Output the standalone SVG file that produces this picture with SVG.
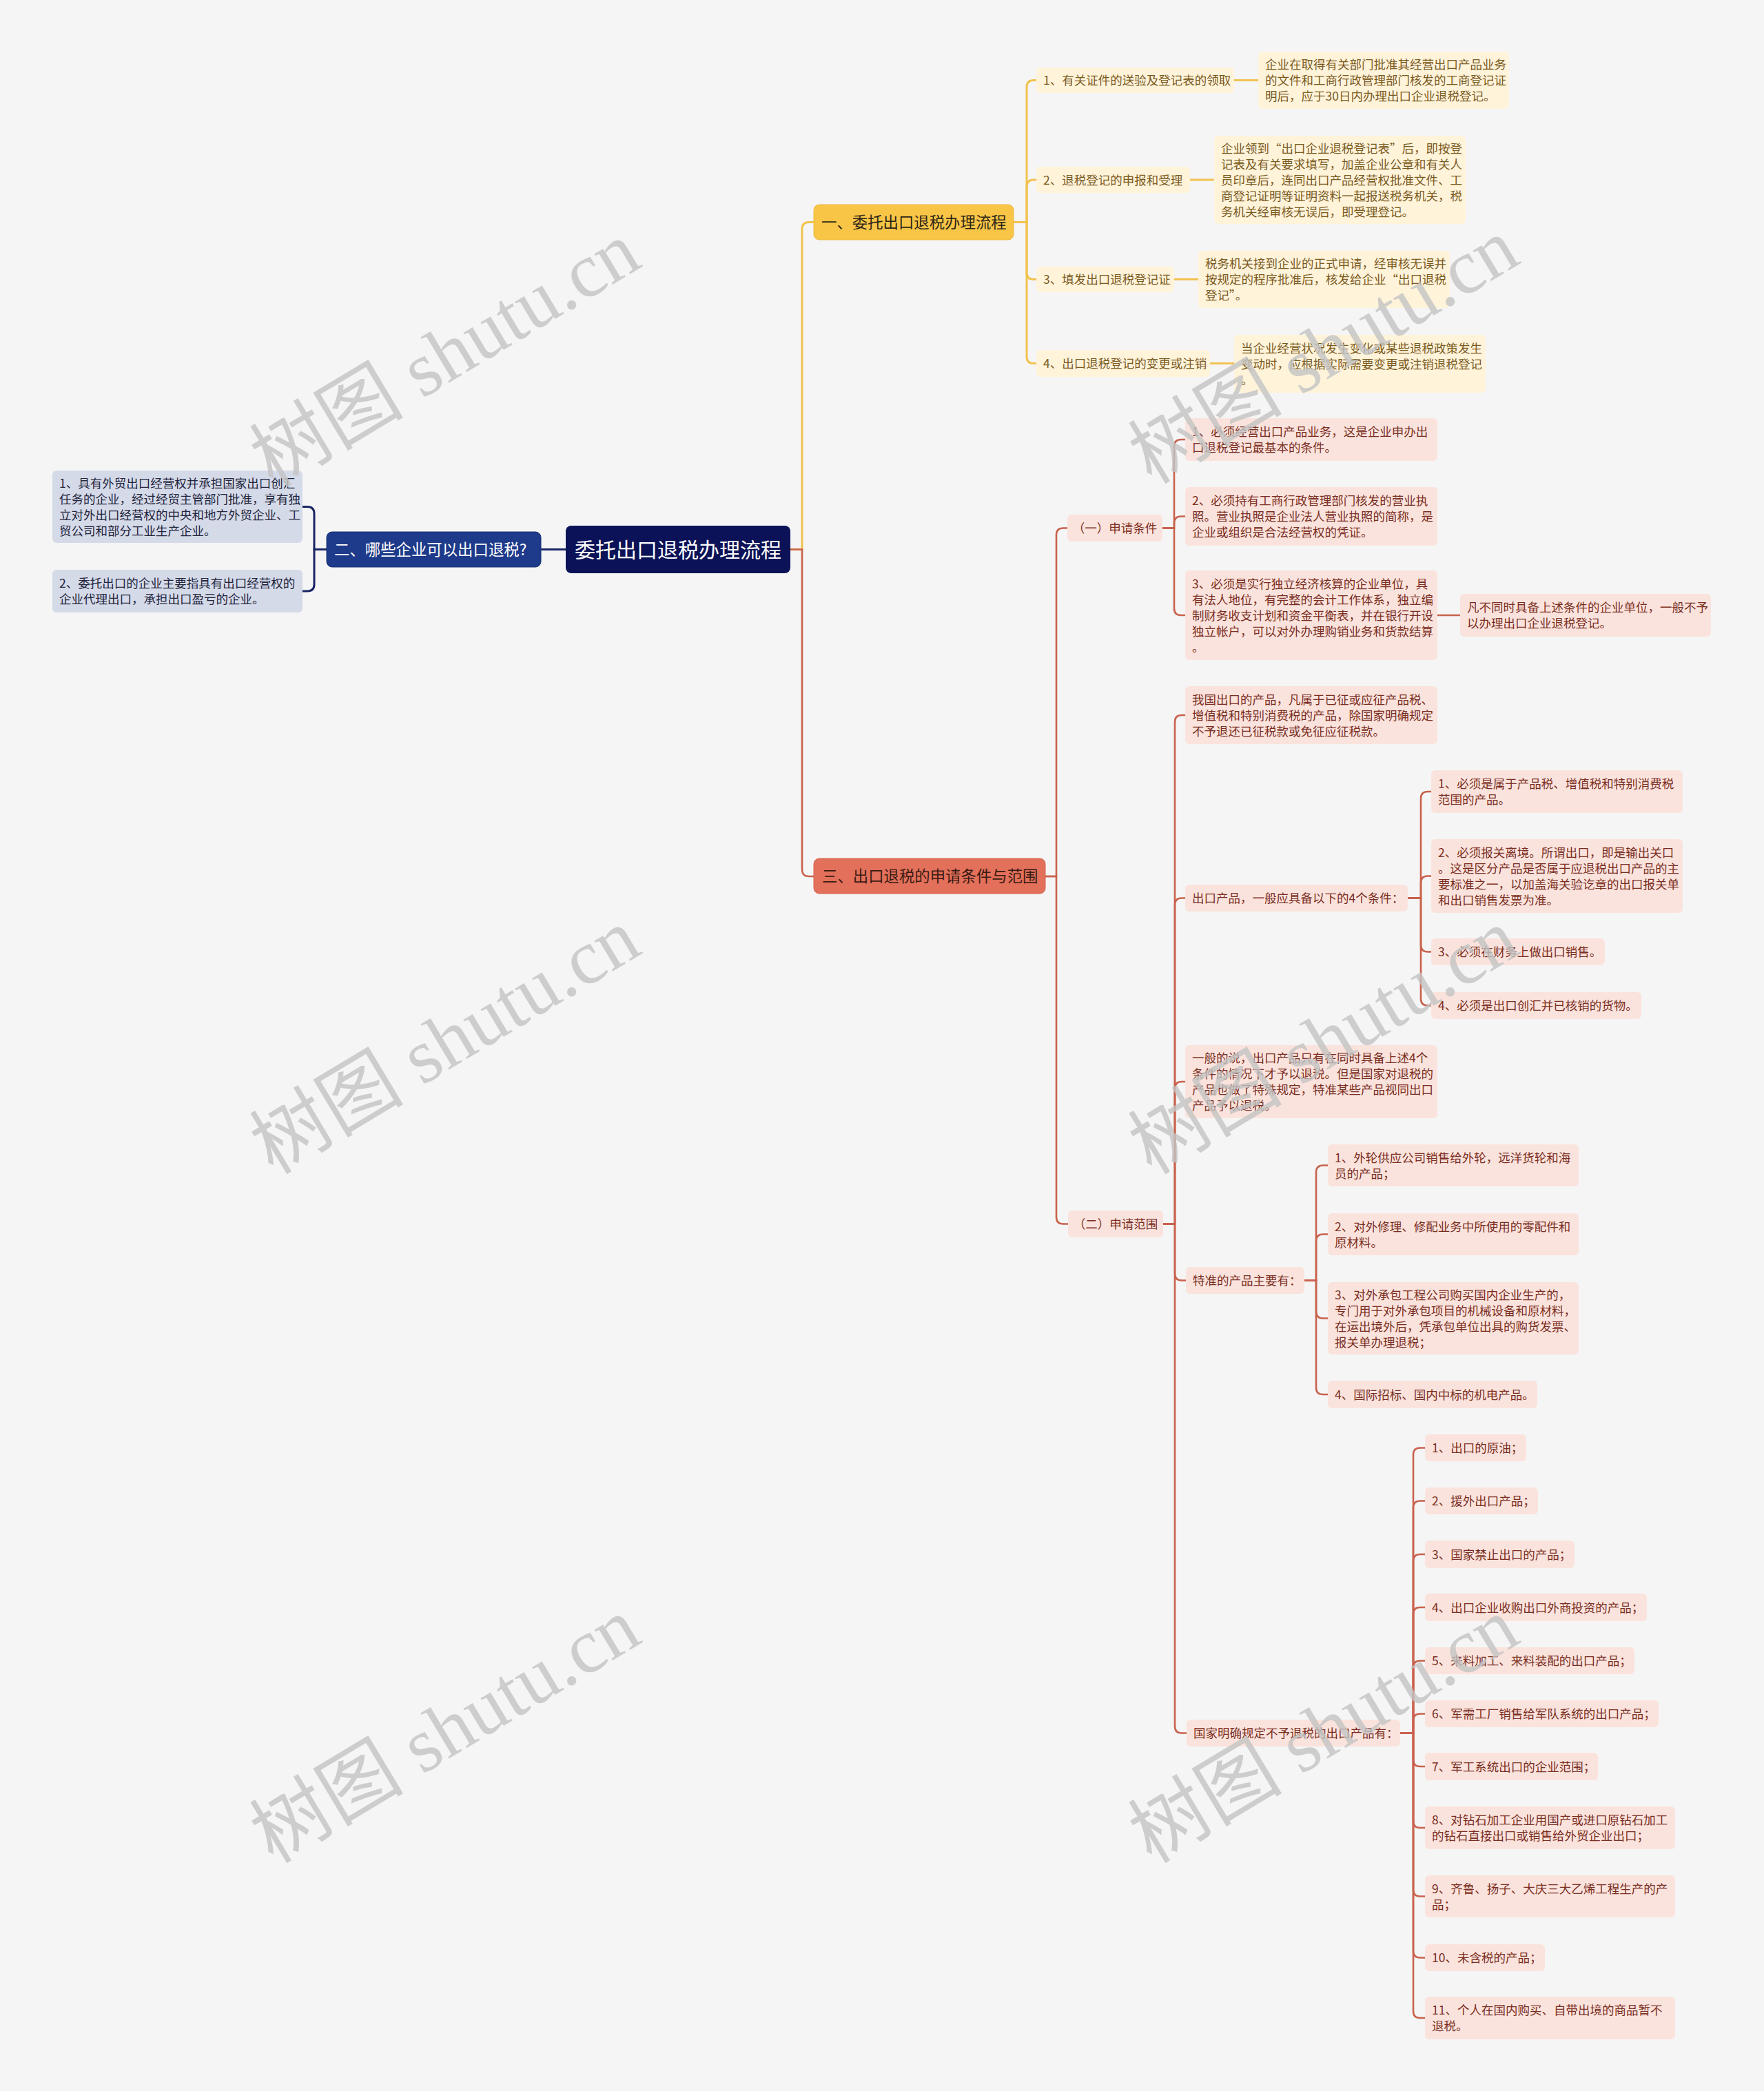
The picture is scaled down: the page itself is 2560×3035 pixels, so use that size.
<svg xmlns="http://www.w3.org/2000/svg" width="2560" height="3035" viewBox="0 0 2560 3035">
<style>
.t{font-family:"Noto Sans CJK SC","Noto Sans",sans-serif;font-size:17.5px}
.ty{fill:#7A5A1E}
.tr{fill:#7A2E22}
.tb{fill:#22253C}
.ny{fill:#FFF3DA}
.nr{fill:#FBE3DD}
.nb{fill:#D5DAE9}
.cy{fill:none;stroke:#F2C24F;stroke-width:3}
.cr{fill:none;stroke:#C9624D;stroke-width:2.6}
.cb{fill:none;stroke:#1A2565;stroke-width:3}
.wm{font-family:"Liberation Serif","Noto Sans CJK SC",serif;font-size:112px;fill:#c4c4c4;opacity:0.8}
</style>
<rect width="2560" height="3035" fill="#F5F5F5"/>

<g id="connectors">
<path class="cy" d="M1147 797.5 H1164 V332.5 Q1164 322.5 1174 322.5 H1181"/>
<path class="cr" d="M1147 797.5 H1164 V1262 Q1164 1272 1174 1272 H1181"/>
<path class="cb" d="M821 797.5 H785"/>
<path class="cb" d="M474 797.5 H456 V745.5 Q456 735.5 446 735.5 H439"/>
<path class="cb" d="M474 797.5 H456 V848 Q456 858 446 858 H439"/>
<path class="cy" d="M1471 322.5 H1490 V126.5 Q1490 116.5 1500 116.5 H1504"/>
<path class="cy" d="M1471 322.5 H1490 V271 Q1490 261 1500 261 H1504"/>
<path class="cy" d="M1471 322.5 H1490 V395.5 Q1490 405.5 1500 405.5 H1504"/>
<path class="cy" d="M1471 322.5 H1490 V517.5 Q1490 527.5 1500 527.5 H1504"/>
<path class="cy" d="M1791 116.5 H1826 M1727 261 H1762 M1704 405.5 H1739 M1756 527.5 H1791"/>
<path class="cr" d="M1517 1272 H1533 V776.5 Q1533 766.5 1543 766.5 H1549"/>
<path class="cr" d="M1517 1272 H1533 V1766.5 Q1533 1776.5 1543 1776.5 H1550"/>
<path class="cr" d="M1687 766.5 H1704 V648 Q1704 638 1714 638 H1720"/>
<path class="cr" d="M1687 766.5 H1704 V759.5 Q1704 749.5 1714 749.5 H1720"/>
<path class="cr" d="M1687 766.5 H1704 V883 Q1704 893 1714 893 H1720"/>
<path class="cr" d="M2086 893 H2119"/>
<path class="cr" d="M1688 1776.5 H1705 V1048 Q1705 1038 1715 1038 H1720"/>
<path class="cr" d="M1688 1776.5 H1705 V1313.5 Q1705 1303.5 1715 1303.5 H1720"/>
<path class="cr" d="M1688 1776.5 H1705 V1580 Q1705 1570 1715 1570 H1720"/>
<path class="cr" d="M1688 1776.5 H1705 V1848.5 Q1705 1858.5 1715 1858.5 H1721"/>
<path class="cr" d="M1688 1776.5 H1705 V2505.5 Q1705 2515.5 1715 2515.5 H1722"/>
<path class="cr" d="M2043 1303.5 H2062 V1159 Q2062 1149 2072 1149 H2077"/>
<path class="cr" d="M2043 1303.5 H2062 V1281.5 Q2062 1271.5 2072 1271.5 H2077"/>
<path class="cr" d="M2043 1303.5 H2062 V1371.5 Q2062 1381.5 2072 1381.5 H2077"/>
<path class="cr" d="M2043 1303.5 H2062 V1449.5 Q2062 1459.5 2072 1459.5 H2077"/>
<path class="cr" d="M1893 1858.5 H1910 V1701.5 Q1910 1691.5 1920 1691.5 H1927"/>
<path class="cr" d="M1893 1858.5 H1910 V1801.5 Q1910 1791.5 1920 1791.5 H1927"/>
<path class="cr" d="M1893 1858.5 H1910 V1903.5 Q1910 1913.5 1920 1913.5 H1927"/>
<path class="cr" d="M1893 1858.5 H1910 V2014 Q1910 2024 1920 2024 H1927"/>
<path class="cr" d="M2032 2515.5 H2051 V2111.5 Q2051 2101.5 2061 2101.5 H2068"/>
<path class="cr" d="M2032 2515.5 H2051 V2188.5 Q2051 2178.5 2061 2178.5 H2068"/>
<path class="cr" d="M2032 2515.5 H2051 V2266 Q2051 2256 2061 2256 H2068"/>
<path class="cr" d="M2032 2515.5 H2051 V2343 Q2051 2333 2061 2333 H2068"/>
<path class="cr" d="M2032 2515.5 H2051 V2420.5 Q2051 2410.5 2061 2410.5 H2068"/>
<path class="cr" d="M2032 2515.5 H2051 V2497.5 Q2051 2487.5 2061 2487.5 H2068"/>
<path class="cr" d="M2032 2515.5 H2051 V2554 Q2051 2564 2061 2564 H2068"/>
<path class="cr" d="M2032 2515.5 H2051 V2643 Q2051 2653 2061 2653 H2068"/>
<path class="cr" d="M2032 2515.5 H2051 V2742.5 Q2051 2752.5 2061 2752.5 H2068"/>
<path class="cr" d="M2032 2515.5 H2051 V2831.5 Q2051 2841.5 2061 2841.5 H2068"/>
<path class="cr" d="M2032 2515.5 H2051 V2919 Q2051 2929 2061 2929 H2068"/>
</g>

<g id="root">
<rect x="821" y="763" width="326" height="69" rx="8" fill="#0B1257"/>
<text x="984" y="808.5" text-anchor="middle" style="font-family:'Noto Sans CJK SC',sans-serif;font-size:30px;fill:#ffffff">委托出口退税办理流程</text>
</g>

<g id="b1">
<rect x="1181" y="297" width="290" height="51" rx="8" fill="#F8C547" stroke="#EDB93C" stroke-width="1"/>
<text x="1192" y="331" style="font-family:'Noto Sans CJK SC',sans-serif;font-size:22.4px;fill:#2E2615">一、委托出口退税办理流程</text>
</g>
<g id="b2">
<rect x="474" y="772" width="311" height="51" rx="8" fill="#1E3A8A" stroke="#172F73" stroke-width="1"/>
<text x="485" y="806" style="font-family:'Noto Sans CJK SC',sans-serif;font-size:22.4px;fill:#ffffff">二、哪些企业可以出口退税?</text>
</g>
<g id="b3">
<rect x="1181" y="1246" width="336" height="51" rx="8" fill="#E2705A" stroke="#D4634D" stroke-width="1"/>
<text x="1193" y="1280" style="font-family:'Noto Sans CJK SC',sans-serif;font-size:22.4px;fill:#3A1A12">三、出口退税的申请条件与范围</text>
</g>

<g id="y1"><rect class="ny" x="1504" y="98" width="287" height="37" rx="6"/><text class="t ty" x="1514" y="123">1、有关证件的送验及登记表的领取</text></g>
<g id="y1a"><rect class="ny" x="1826" y="75" width="364" height="83" rx="6"/><text class="t ty"><tspan x="1836" y="100">企业在取得有关部门批准其经营出口产品业务</tspan><tspan x="1836" y="123">的文件和工商行政管理部门核发的工商登记证</tspan><tspan x="1836" y="146">明后，应于30日内办理出口企业退税登记。</tspan></text></g>
<g id="y2"><rect class="ny" x="1504" y="242" width="223" height="38" rx="6"/><text class="t ty" x="1514" y="267.5">2、退税登记的申报和受理</text></g>
<g id="y2a"><rect class="ny" x="1762" y="197" width="365" height="128" rx="6"/><text class="t ty"><tspan x="1772" y="221.5">企业领到“出口企业退税登记表”后，即按登</tspan><tspan x="1772" y="244.5">记表及有关要求填写，加盖企业公章和有关人</tspan><tspan x="1772" y="267.5">员印章后，连同出口产品经营权批准文件、工</tspan><tspan x="1772" y="290.5">商登记证明等证明资料一起报送税务机关，税</tspan><tspan x="1772" y="313.5">务机关经审核无误后，即受理登记。</tspan></text></g>
<g id="y3"><rect class="ny" x="1504" y="387" width="200" height="37" rx="6"/><text class="t ty" x="1514" y="412">3、填发出口退税登记证</text></g>
<g id="y3a"><rect class="ny" x="1739" y="364" width="365" height="83" rx="6"/><text class="t ty"><tspan x="1749" y="389">税务机关接到企业的正式申请，经审核无误并</tspan><tspan x="1749" y="412">按规定的程序批准后，核发给企业“出口退税</tspan><tspan x="1749" y="435">登记”。</tspan></text></g>
<g id="y4"><rect class="ny" x="1504" y="508" width="252" height="39" rx="6"/><text class="t ty" x="1514" y="534">4、出口退税登记的变更或注销</text></g>
<g id="y4a"><rect class="ny" x="1791" y="486" width="365" height="84" rx="6"/><text class="t ty"><tspan x="1801" y="511.5">当企业经营状况发生变化或某些退税政策发生</tspan><tspan x="1801" y="534.5">变动时，应根据实际需要变更或注销退税登记</tspan><tspan x="1801" y="557.5">。</tspan></text></g>

<g id="bl1"><rect class="nb" x="76" y="683" width="363" height="105" rx="6"/><text class="t tb"><tspan x="86" y="707.5">1、具有外贸出口经营权并承担国家出口创汇</tspan><tspan x="86" y="730.5">任务的企业，经过经贸主管部门批准，享有独</tspan><tspan x="86" y="753.5">立对外出口经营权的中央和地方外贸企业、工</tspan><tspan x="86" y="776.5">贸公司和部分工业生产企业。</tspan></text></g>
<g id="bl2"><rect class="nb" x="76" y="827" width="363" height="62" rx="6"/><text class="t tb"><tspan x="86" y="853">2、委托出口的企业主要指具有出口经营权的</tspan><tspan x="86" y="876">企业代理出口，承担出口盈亏的企业。</tspan></text></g>

<g id="r1"><rect class="nr" x="1549" y="747" width="138" height="39" rx="6"/><text class="t tr" x="1618" y="773" text-anchor="middle">（一）申请条件</text></g>
<g id="r1a"><rect class="nr" x="1720" y="607" width="366" height="62" rx="6"/><text class="t tr"><tspan x="1730" y="633">1、必须经营出口产品业务，这是企业申办出</tspan><tspan x="1730" y="656">口退税登记最基本的条件。</tspan></text></g>
<g id="r1b"><rect class="nr" x="1720" y="707" width="366" height="85" rx="6"/><text class="t tr"><tspan x="1730" y="733">2、必须持有工商行政管理部门核发的营业执</tspan><tspan x="1730" y="756">照。营业执照是企业法人营业执照的简称，是</tspan><tspan x="1730" y="779">企业或组织是合法经营权的凭证。</tspan></text></g>
<g id="r1c"><rect class="nr" x="1720" y="828" width="366" height="130" rx="6"/><text class="t tr"><tspan x="1730" y="853.5">3、必须是实行独立经济核算的企业单位，具</tspan><tspan x="1730" y="876.5">有法人地位，有完整的会计工作体系，独立编</tspan><tspan x="1730" y="899.5">制财务收支计划和资金平衡表，并在银行开设</tspan><tspan x="1730" y="922.5">独立帐户，可以对外办理购销业务和货款结算</tspan><tspan x="1730" y="945.5">。</tspan></text></g>
<g id="r1c1"><rect class="nr" x="2119" y="862" width="364" height="62" rx="6"/><text class="t tr"><tspan x="2129" y="888">凡不同时具备上述条件的企业单位，一般不予</tspan><tspan x="2129" y="911">以办理出口企业退税登记。</tspan></text></g>

<g id="r2"><rect class="nr" x="1550" y="1757" width="138" height="39" rx="6"/><text class="t tr" x="1619" y="1783" text-anchor="middle">（二）申请范围</text></g>
<g id="d1"><rect class="nr" x="1720" y="996" width="366" height="84" rx="6"/><text class="t tr"><tspan x="1730" y="1021.5">我国出口的产品，凡属于已征或应征产品税、</tspan><tspan x="1730" y="1044.5">增值税和特别消费税的产品，除国家明确规定</tspan><tspan x="1730" y="1067.5">不予退还已征税款或免征应征税款。</tspan></text></g>
<g id="d2"><rect class="nr" x="1720" y="1284" width="323" height="39" rx="6"/><text class="t tr" x="1730" y="1310">出口产品，一般应具备以下的4个条件：</text></g>
<g id="e1"><rect class="nr" x="2077" y="1118" width="365" height="62" rx="6"/><text class="t tr"><tspan x="2087" y="1144">1、必须是属于产品税、增值税和特别消费税</tspan><tspan x="2087" y="1167">范围的产品。</tspan></text></g>
<g id="e2"><rect class="nr" x="2077" y="1218" width="365" height="107" rx="6"/><text class="t tr"><tspan x="2087" y="1243.5">2、必须报关离境。所谓出口，即是输出关口</tspan><tspan x="2087" y="1266.5">。这是区分产品是否属于应退税出口产品的主</tspan><tspan x="2087" y="1289.5">要标准之一，以加盖海关验讫章的出口报关单</tspan><tspan x="2087" y="1312.5">和出口销售发票为准。</tspan></text></g>
<g id="e3"><rect class="nr" x="2077" y="1362" width="252" height="39" rx="6"/><text class="t tr" x="2087" y="1388">3、必须在财务上做出口销售。</text></g>
<g id="e4"><rect class="nr" x="2077" y="1440" width="305" height="39" rx="6"/><text class="t tr" x="2087" y="1466">4、必须是出口创汇并已核销的货物。</text></g>
<g id="d3"><rect class="nr" x="1720" y="1517" width="366" height="106" rx="6"/><text class="t tr"><tspan x="1730" y="1542">一般的说，出口产品只有在同时具备上述4个</tspan><tspan x="1730" y="1565">条件的情况下才予以退税。但是国家对退税的</tspan><tspan x="1730" y="1588">产品也做了特殊规定，特准某些产品视同出口</tspan><tspan x="1730" y="1611">产品予以退税。</tspan></text></g>
<g id="d4"><rect class="nr" x="1721" y="1839" width="172" height="39" rx="6"/><text class="t tr" x="1731" y="1865">特准的产品主要有：</text></g>
<g id="f1"><rect class="nr" x="1927" y="1661" width="364" height="61" rx="6"/><text class="t tr"><tspan x="1937" y="1686.5">1、外轮供应公司销售给外轮，远洋货轮和海</tspan><tspan x="1937" y="1709.5">员的产品；</tspan></text></g>
<g id="f2"><rect class="nr" x="1927" y="1761" width="364" height="61" rx="6"/><text class="t tr"><tspan x="1937" y="1786.5">2、对外修理、修配业务中所使用的零配件和</tspan><tspan x="1937" y="1809.5">原材料。</tspan></text></g>
<g id="f3"><rect class="nr" x="1927" y="1861" width="364" height="105" rx="6"/><text class="t tr"><tspan x="1937" y="1885.5">3、对外承包工程公司购买国内企业生产的，</tspan><tspan x="1937" y="1908.5">专门用于对外承包项目的机械设备和原材料，</tspan><tspan x="1937" y="1931.5">在运出境外后，凭承包单位出具的购货发票、</tspan><tspan x="1937" y="1954.5">报关单办理退税；</tspan></text></g>
<g id="f4"><rect class="nr" x="1927" y="2004" width="304" height="40" rx="6"/><text class="t tr" x="1937" y="2030.5">4、国际招标、国内中标的机电产品。</text></g>
<g id="d5"><rect class="nr" x="1722" y="2496" width="310" height="39" rx="6"/><text class="t tr" x="1732" y="2522">国家明确规定不予退税的出口产品有：</text></g>
<g id="g1"><rect class="nr" x="2068" y="2082" width="147" height="39" rx="6"/><text class="t tr" x="2078" y="2108">1、出口的原油；</text></g>
<g id="g2"><rect class="nr" x="2068" y="2159" width="164" height="39" rx="6"/><text class="t tr" x="2078" y="2185">2、援外出口产品；</text></g>
<g id="g3"><rect class="nr" x="2068" y="2236" width="217" height="40" rx="6"/><text class="t tr" x="2078" y="2262.5">3、国家禁止出口的产品；</text></g>
<g id="g4"><rect class="nr" x="2068" y="2313" width="322" height="40" rx="6"/><text class="t tr" x="2078" y="2339.5">4、出口企业收购出口外商投资的产品；</text></g>
<g id="g5"><rect class="nr" x="2068" y="2391" width="304" height="39" rx="6"/><text class="t tr" x="2078" y="2417">5、来料加工、来料装配的出口产品；</text></g>
<g id="g6"><rect class="nr" x="2068" y="2468" width="339" height="39" rx="6"/><text class="t tr" x="2078" y="2494">6、军需工厂销售给军队系统的出口产品；</text></g>
<g id="g7"><rect class="nr" x="2068" y="2544" width="251" height="40" rx="6"/><text class="t tr" x="2078" y="2570.5">7、军工系统出口的企业范围；</text></g>
<g id="g8"><rect class="nr" x="2068" y="2622" width="363" height="62" rx="6"/><text class="t tr"><tspan x="2078" y="2648">8、对钻石加工企业用国产或进口原钻石加工</tspan><tspan x="2078" y="2671">的钻石直接出口或销售给外贸企业出口；</tspan></text></g>
<g id="g9"><rect class="nr" x="2068" y="2722" width="363" height="61" rx="6"/><text class="t tr"><tspan x="2078" y="2747.5">9、齐鲁、扬子、大庆三大乙烯工程生产的产</tspan><tspan x="2078" y="2770.5">品；</tspan></text></g>
<g id="g10"><rect class="nr" x="2068" y="2822" width="174" height="39" rx="6"/><text class="t tr" x="2078" y="2848">10、未含税的产品；</text></g>
<g id="g11"><rect class="nr" x="2068" y="2898" width="363" height="62" rx="6"/><text class="t tr"><tspan x="2078" y="2924">11、个人在国内购买、自带出境的商品暂不</tspan><tspan x="2078" y="2947">退税。</tspan></text></g>

<g id="watermarks">
<text class="wm" x="648" y="552" text-anchor="middle" transform="rotate(-31 648 518)">树图 shutu.cn</text>
<text class="wm" x="648" y="1549" text-anchor="middle" transform="rotate(-31 648 1515)">树图 shutu.cn</text>
<text class="wm" x="648" y="2549" text-anchor="middle" transform="rotate(-31 648 2515)">树图 shutu.cn</text>
<text class="wm" x="1923" y="547" text-anchor="middle" transform="rotate(-31 1923 513)">树图 shutu.cn</text>
<text class="wm" x="1923" y="1549" text-anchor="middle" transform="rotate(-31 1923 1515)">树图 shutu.cn</text>
<text class="wm" x="1923" y="2549" text-anchor="middle" transform="rotate(-31 1923 2515)">树图 shutu.cn</text>
</g>
</svg>
